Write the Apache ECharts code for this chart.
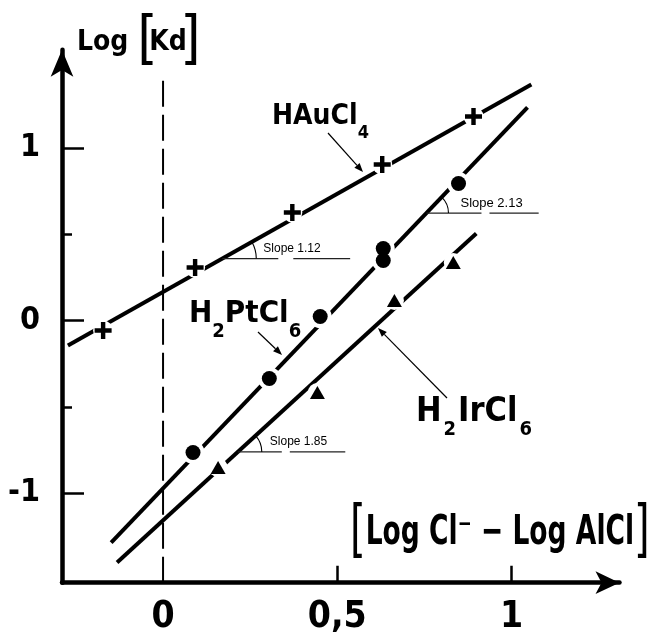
<!DOCTYPE html>
<html><head><meta charset="utf-8">
<script src="https://cdn.jsdelivr.net/npm/echarts@6/dist/echarts.min.js"></script>
<style>html,body{margin:0;padding:0;background:#fff}#c{width:649px;height:639px}</style>
</head><body><div id="c"></div>
<script>
// ---- data ----
const auX = [-0.172, 0.092, 0.371, 0.629, 0.891];
const auY = [-0.058, 0.307, 0.626, 0.904, 1.183];
const ptX = [0.086, 0.305, 0.451, 0.632, 0.632, 0.848];
const ptY = [-0.765, -0.336, 0.023, 0.417, 0.348, 0.794];
const irX = [0.158, 0.443, 0.664, 0.833];
const irY = [-0.852, -0.417, 0.116, 0.336];
// fitted straight lines (end points)
const auFitX = [-0.273, 1.057], auFitY = [-0.145, 1.368];
const ptFitX = [-0.149, 1.046], ptFitY = [-1.287, 1.235];
const irFitX = [-0.132, 0.899], irFitY = [-1.403, 0.504];
// reference line x = 0
const refX = [0, 0], refY = [-1.52, 1.406];
// ticks / labels
const xTickVals = [0.5, 1];
const xLabelVals = [0, 0.5, 1];
const yTickVals = [-1, 0, 1];
const yMinorVals = [-0.5, 0.5];
// slope annotations
const slopeText = ['Slope 1.12', 'Slope 1.85', 'Slope 2.13'];
const slopeY = [0.359, -0.762, 0.623];
const slopeEndX = [0.537, 0.523, 1.078];

const FONT = "'DejaVu Sans Condensed', 'DejaVu Sans', sans-serif";
const pairs = (xs, ys) => xs.map((x, i) => [x, ys[i]]);
const fits = [
  {x: auFitX, y: auFitY},
  {x: irFitX, y: irFitY},
  {x: ptFitX, y: ptFitY}
];
const arcR = [34, 24, 22];
const textDx = [41, 32, 34];
const gapA = [56, 44, 55], gapB = [71, 52, 63];
const slopeFont = [12, 12, 13];

const chart = echarts.init(document.getElementById('c'), null, {renderer: 'canvas'});
const plusPath = 'path://M3.7,0H6.3V3.7H10V6.3H6.3V10H3.7V6.3H0V3.7H3.7Z';

function fitSeries(xs, ys) {
  return {type: 'line', data: pairs(xs, ys), symbol: 'none', z: 2, silent: true,
    lineStyle: {color: '#000', width: 4}};
}
function halo(xs, ys, size) {
  return {type: 'scatter', data: pairs(xs, ys), symbol: 'circle', symbolSize: size, z: 3, silent: true,
    itemStyle: {color: '#fff', opacity: 1}};
}

const option = {
  backgroundColor: '#fff',
  animation: false,
  grid: {left: 62, top: 49.7, width: 557.5, height: 533, containLabel: false, outerBoundsMode: 'none'},
  xAxis: {
    type: 'value', min: -0.29, max: 1.31,
    axisLine: {show: true, onZero: false, symbol: ['none', 'arrow'], symbolSize: [17, 24],
      lineStyle: {color: '#000', width: 4.5}},
    axisTick: {show: true, inside: true, length: 17, customValues: xTickVals, lineStyle: {color: '#000', width: 2.5}},
    axisLabel: {show: true, customValues: xLabelVals, margin: 16, color: '#000', fontFamily: FONT, fontWeight: 'bold', fontSize: 37,
      formatter: v => String(v).replace('.', ',')},
    splitLine: {show: false}
  },
  yAxis: [{
    type: 'value', min: -1.52, max: 1.57,
    axisLine: {show: true, onZero: false, symbol: ['none', 'arrow'], symbolSize: [17, 27],
      lineStyle: {color: '#000', width: 4.5}},
    axisTick: {show: true, inside: true, length: 22, customValues: yTickVals, lineStyle: {color: '#000', width: 2.5}},
    axisLabel: {show: true, customValues: yTickVals, margin: 22, color: '#000', fontFamily: FONT, fontWeight: 'bold', fontSize: 32,
      formatter: v => v < 0 ? '-' + Math.abs(v) : String(v)},
    splitLine: {show: false}
  }, {
    type: 'value', min: -1.52, max: 1.57, position: 'left',
    axisLine: {show: false, onZero: false},
    axisTick: {show: true, inside: true, length: 10, customValues: yMinorVals, lineStyle: {color: '#000', width: 2.5}},
    axisLabel: {show: false},
    splitLine: {show: false}
  }],
  series: [
    {type: 'line', data: pairs(refX, refY), symbol: 'none', z: 1, silent: true,
      lineStyle: {color: '#000', width: 2, type: [26, 8]}},
    fitSeries(auFitX, auFitY),
    fitSeries(ptFitX, ptFitY),
    fitSeries(irFitX, irFitY),
    halo(auX, auY, 20),
    halo(ptX, ptY, 23),
    halo(irX, irY, 19),
    {name: 'HAuCl4', type: 'scatter', data: pairs(auX, auY), symbol: plusPath, symbolSize: 17, z: 4,
      itemStyle: {color: '#000', opacity: 1}},
    {name: 'H2PtCl6', type: 'scatter', data: pairs(ptX, ptY), symbol: 'circle', symbolSize: 15, z: 4,
      itemStyle: {color: '#000', opacity: 1}},
    {name: 'H2IrCl6', type: 'scatter', data: pairs(irX, irY), symbol: 'triangle', symbolSize: [15, 13], z: 4,
      itemStyle: {color: '#000', opacity: 1}},
    {type: 'custom', coordinateSystem: 'cartesian2d', z: 5, silent: true,
      data: slopeText.map((t, i) => [i, 0]),
      renderItem: function (params, api) {
        const i = params.dataIndex;
        const f = fits[i];
        const y = slopeY[i];
        const k = (f.y[1] - f.y[0]) / (f.x[1] - f.x[0]);
        const x0 = f.x[0] + (y - f.y[0]) / k;
        const p0 = api.coord([x0, y]);
        const p1 = api.coord([slopeEndX[i], y]);
        const q = api.coord([f.x[1], f.y[1]]);
        const theta = Math.atan2(p0[1] - q[1], q[0] - p0[0]);
        return {type: 'group', children: [
          {type: 'line', shape: {x1: p0[0], y1: p0[1], x2: p0[0] + gapA[i], y2: p0[1]},
            style: {stroke: '#222', lineWidth: 1.2}},
          {type: 'line', shape: {x1: p0[0] + gapB[i], y1: p0[1], x2: p1[0], y2: p0[1]},
            style: {stroke: '#222', lineWidth: 1.2}},
          {type: 'arc', shape: {cx: p0[0], cy: p0[1], r: arcR[i], startAngle: -theta, endAngle: 0, clockwise: true},
            style: {stroke: '#000', fill: null, lineWidth: 1.1}},
          {type: 'text', x: p0[0] + textDx[i], y: p0[1] - 10,
            style: {text: slopeText[i], fill: '#000', fontFamily: "'Liberation Sans', Arial, sans-serif",
              fontSize: slopeFont[i], verticalAlign: 'middle', align: 'left'}}
        ]};
      }
    }
  ],
  graphic: []
};

function arrow(x1, y1, x2, y2) {
  const a = Math.atan2(y2 - y1, x2 - x1), L = 9, W = 3.5;
  const bx = x2 - L * Math.cos(a), by = y2 - L * Math.sin(a);
  const nx = -Math.sin(a) * W, ny = Math.cos(a) * W;
  return [
    {type: 'line', shape: {x1, y1, x2: bx, y2: by}, style: {stroke: '#000', lineWidth: 1.2}, z: 10},
    {type: 'polygon', shape: {points: [[x2, y2], [bx + nx, by + ny], [bx - nx, by - ny]]}, style: {fill: '#000'}, z: 10}
  ];
}
function chem(text, x, top, main, sub, lh, pad) {
  return {type: 'text', x: x, y: top, z: 10,
    style: {text: text, align: 'left', verticalAlign: 'top', fill: '#000',
      rich: {
        m: {fontFamily: FONT, fontWeight: 'bold', fontSize: main, lineHeight: lh, color: '#000'},
        s: {fontFamily: FONT, fontWeight: 'bold', fontSize: sub, lineHeight: sub, verticalAlign: 'bottom', color: '#000',
          padding: [0, pad, 0, pad]}
      }}};
}

option.graphic = [
  chem('{m|HAu}{m|Cl}{s|4}', 272, 92, 28, 18, 50, 0),
  chem('{m|H}{s|2}{m|PtCl}{s|6}', 189, 286, 31, 20, 56, 0),
  chem('{m|H}{s|2}{m|IrCl}{s|6}', 416, 384, 34, 20, 56, 2),
  ...arrow(328, 133, 363, 172),
  ...arrow(258, 332, 282, 355),
  ...arrow(447, 398, 378, 328),
  {type: 'text', x: 77, y: 43, z: 10,
    style: {text: '{a|Log }{b|[}{a|Kd}{c|]}', align: 'left', verticalAlign: 'middle',
      rich: {
        a: {fontFamily: FONT, fontWeight: 'bold', fontSize: 28, lineHeight: 44, verticalAlign: 'middle', color: '#000'},
        b: {fontFamily: FONT, fontSize: 58, lineHeight: 56, width: 12, align: 'left', color: '#000'},
        c: {fontFamily: FONT, fontSize: 58, lineHeight: 56, width: 14, align: 'right', color: '#000'}
      }}},
  {type: 'text', x: 350, y: 533, scaleX: 0.72, z: 10,
    style: {text: '{b|[}{a|Log Cl\u207B \u2212 Log AlCl}{b|]}', align: 'left', verticalAlign: 'middle',
      rich: {
        a: {fontFamily: FONT, fontWeight: 'bold', fontSize: 41, lineHeight: 62, color: '#000'},
        b: {fontFamily: FONT, fontSize: 62, lineHeight: 62, color: '#000'}
      }}}
];

chart.setOption(option);
</script>
</body></html>
